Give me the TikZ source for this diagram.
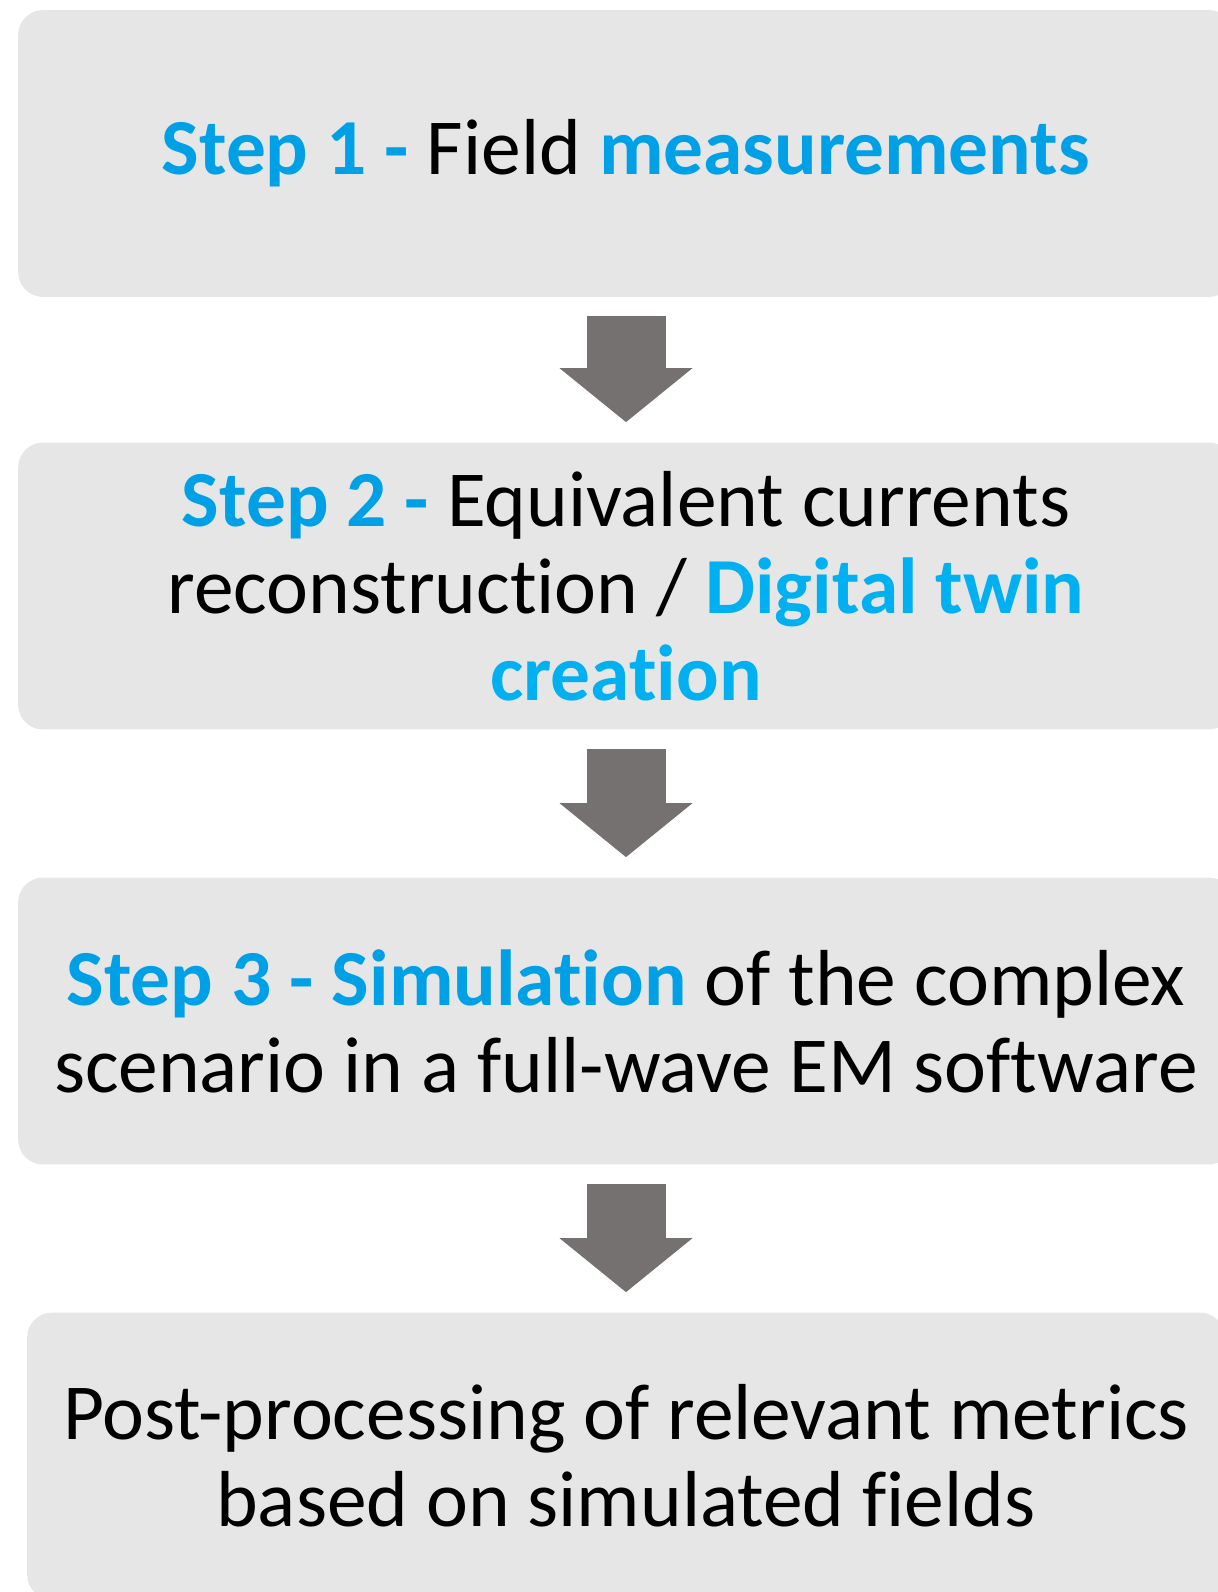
\documentclass[tikz,border=0pt]{standalone}
\usepackage{fontspec}
\setmainfont[Ligatures={NoCommon}]{Carlito}
\usetikzlibrary{arrows.meta,positioning}
\definecolor{boxgrey}{HTML}{E6E6E6}
\definecolor{arrowgrey}{HTML}{767171}
\definecolor{stepblue}{HTML}{00A0E6}
\definecolor{twinblue}{HTML}{00B0F0}
\newcommand{\hl}[1]{\textbf{\textcolor{stepblue}{#1}}}
\newcommand{\twin}[1]{\textbf{\textcolor{twinblue}{#1}}}

\begin{document}
\begin{tikzpicture}[
    x=0.02cm, y=-0.02cm,
    stepbox/.style={rectangle, fill=boxgrey, rounded corners=0.5cm, minimum width=24.32cm, minimum height=5.74cm, inner sep=0pt, align=center, font=\fontsize{45.2}{49.5}\selectfont},
    flowarrow/.style={draw=arrowgrey, line width=1.58cm, -{Triangle[width=2.6cm, length=1.08cm]}, shorten <=0.38cm, shorten >=0.4cm}
]
    \useasboundingbox (0,0) rectangle (1217,1592);

    \node[stepbox] (s1) at (626,153.5) {\hl{Step 1 -} Field \hl{measurements}};
    \node[stepbox] (s2) at (626,586) {\hl{Step 2 -} Equivalent currents \\ reconstruction / \twin{Digital twin} \\ \twin{creation}};
    \node[stepbox] (s3) at (626,1021) {\hl{Step 3 - Simulation} of the complex \\ scenario in a full-wave EM software};
    \node[stepbox, minimum width=23.96cm] (s4) at (626,1456) {Post-processing of relevant metrics \\ based on simulated fields};

    \draw[flowarrow] (s1) -- (s2);
    \draw[flowarrow] (s2) -- (s3);
    \draw[flowarrow] (s3) -- (s4);
\end{tikzpicture}
\end{document}
